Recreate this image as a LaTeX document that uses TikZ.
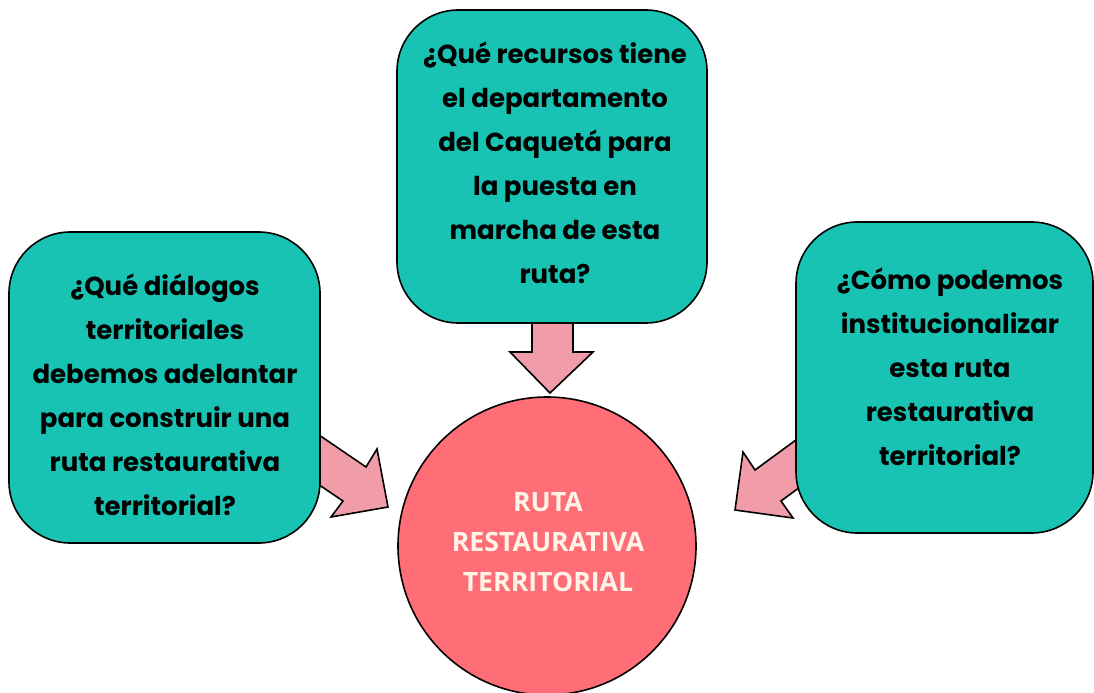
\documentclass[tikz,border=0pt]{standalone}
\usepackage{fontspec}
\setmainfont{Poppins}
\newfontfamily\circfont{Open Sans}
\definecolor{teal1}{HTML}{19C3B3}
\definecolor{coral}{HTML}{FF6E76}
\definecolor{pinkarrow}{HTML}{F19DA9}
\definecolor{cream}{HTML}{FFF4E8}
\tikzset{
  qbox/.style={draw=black, line width=1.2pt, fill=teal1, rounded corners=46pt},
  blockarrow/.style={draw=black, line width=1.2pt, fill=pinkarrow, line join=miter},
  qtext/.style={align=center, font=\bfseries\fontsize{19.5}{33}\selectfont, text=black, inner sep=0pt},
  ctext/.style={align=center, font=\circfont\bfseries\fontsize{20}{30}\selectfont, text=cream, inner sep=0pt},
}
\begin{document}
\begin{tikzpicture}[x=0.75pt,y=-0.75pt]
\useasboundingbox (0,0) rectangle (1094,692);
% arrows (behind boxes)
\draw[blockarrow] (532,300) -- (532,352) -- (510,352) -- (550,393) -- (593,352) -- (573,352) -- (573,300) -- cycle;
\draw[blockarrow] (300,422) -- (366,467) -- (377,449) -- (388,507) -- (331,517) -- (343,501) -- (300,472) -- cycle;
\draw[blockarrow] (815,426) -- (755,470) -- (743,452) -- (735,510) -- (793,518) -- (781,501) -- (815,476) -- cycle;
% boxes
\draw[qbox] (397,10) rectangle (707,323);
\draw[qbox] (9,232) rectangle (320,543);
\draw[qbox] (796,222) rectangle (1093,533);
% circle
\draw[draw=black, line width=1.2pt, fill=coral] (547,546) circle[radius=149];
% texts
\node[qtext] (top) at (555,163) {¿Qué recursos tiene\\el departamento\\del Caquetá para\\la puesta en\\marcha de esta\\ruta?};
\node[qtext] (left) at (165,395) {¿Qué diálogos\\territoriales\\debemos adelantar\\para construir una\\ruta restaurativa\\territorial?};
\node[qtext] (right) at (950,367) {¿Cómo podemos\\institucionalizar\\esta ruta\\restaurativa\\territorial?};
\node[ctext] (center) at (548,542) {RUTA\\RESTAURATIVA\\TERRITORIAL};
\end{tikzpicture}
\end{document}
